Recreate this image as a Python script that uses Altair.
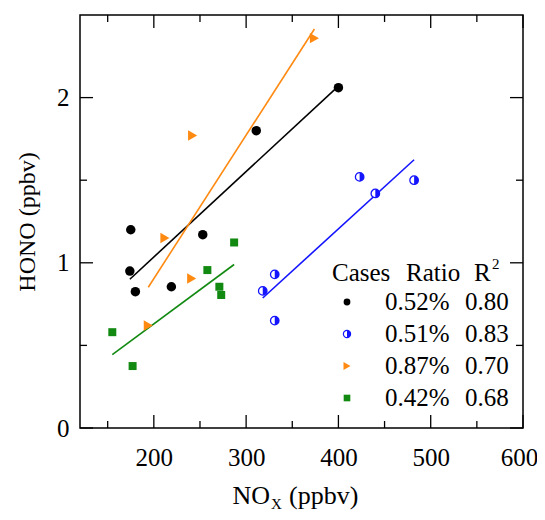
import altair as alt
import pandas as pd

# ---- data ----
black_x = [175, 174, 180, 219, 253, 311, 400]
black_y = [1.20, 0.95, 0.825, 0.855, 1.17, 1.80, 2.06]
blue_x = [318, 331, 331, 423, 440, 482]
blue_y = [0.83, 0.93, 0.65, 1.52, 1.42, 1.50]
orange_x = [194, 212, 241, 242, 374]
orange_y = [0.62, 1.15, 0.905, 1.77, 2.36]
green_x = [155, 177, 258, 271, 273, 287]
green_y = [0.58, 0.375, 0.956, 0.855, 0.805, 1.123]

legend_ratio = ["0.52%", "0.51%", "0.87%", "0.42%"]
legend_r2 = ["0.80", "0.83", "0.70", "0.68"]

x_major = [200, 300, 400, 500, 600]
x_minor = [150, 250, 350, 450, 550]
y_major = [0, 1, 2]
y_minor = [0.5, 1.5]

# ---- styling ----
FONT = "Liberation Serif"
BLACK, BLUE, ORANGE, GREEN = "#000000", "#1414ff", "#ff8a12", "#128a12"
W, H = 443, 413
MAJ, MIN = 13, 7
HALF = "M0,-1A1,1,0,0,1,0,1Z"

xs = alt.Scale(domain=[120, 600], nice=False, zero=False)
ys = alt.Scale(domain=[0, 2.5], nice=False, zero=False)

x_axis = alt.Axis(values=x_major, ticks=False, domain=False, grid=False,
                  labelFont=FONT, labelFontSize=25, labelColor="black",
                  labelPadding=17, labelFlush=False, labelOverlap=False,
                  labelBound=False, title=None,
                  labelOffset={"condition": {"test": "datum.value == 600", "value": -4}, "value": 0})
y_axis = alt.Axis(values=y_major, ticks=False, domain=False, grid=False,
                  labelFont=FONT, labelFontSize=25, labelColor="black",
                  labelPadding=11, labelFlush=False, labelOverlap=False,
                  labelBound=False, title="HONO (ppbv)", titleFont=FONT,
                  titleFontSize=24, titleFontWeight="normal", titleColor="black",
                  titlePadding=17)


def xe(f):
    return alt.X(f"{f}:Q", scale=xs, axis=x_axis)


def ye(f):
    return alt.Y(f"{f}:Q", scale=ys, axis=y_axis)


def frame(xv, yv):
    return pd.DataFrame({"x": xv, "y": yv})


layers = []

series = [
    (black_x, black_y, BLACK),
    (blue_x, blue_y, BLUE),
    (orange_x, orange_y, ORANGE),
    (green_x, green_y, GREEN),
]

# regression lines
for xv, yv, col in series:
    layers.append(
        alt.Chart(frame(xv, yv)).transform_regression("x", "y")
        .mark_line(color=col, strokeWidth=1.6)
        .encode(x=xe("x"), y=ye("y"))
    )

# points
layers.append(alt.Chart(frame(black_x, black_y)).mark_point(
    shape="circle", filled=True, color=BLACK, size=90, opacity=1
).encode(x=xe("x"), y=ye("y")))
layers.append(alt.Chart(frame(blue_x, blue_y)).mark_point(
    shape="circle", filled=True, fill="white", stroke=BLUE, strokeWidth=1.3, size=72, opacity=1
).encode(x=xe("x"), y=ye("y")))
layers.append(alt.Chart(frame(blue_x, blue_y)).mark_point(
    shape=HALF, filled=True, color=BLUE, size=72, opacity=1
).encode(x=xe("x"), y=ye("y")))
layers.append(alt.Chart(frame(orange_x, orange_y)).mark_point(
    shape="triangle-right", filled=True, color=ORANGE, size=110, opacity=1
).encode(x=xe("x"), y=ye("y")))
layers.append(alt.Chart(frame(green_x, green_y)).mark_point(
    shape="square", filled=True, color=GREEN, size=64, opacity=1
).encode(x=xe("x"), y=ye("y")))

# inside ticks on all four sides
for vals, L in ((x_major, MAJ), (x_minor, MIN)):
    d = pd.DataFrame({"v": vals})
    layers.append(alt.Chart(d).mark_rule(color="black", strokeWidth=1.3).encode(
        x=xe("v"), y=alt.value(H), y2=alt.value(H - L)))
    layers.append(alt.Chart(d).mark_rule(color="black", strokeWidth=1.3).encode(
        x=xe("v"), y=alt.value(0), y2=alt.value(L)))
for vals, L in ((y_major, MAJ), (y_minor, MIN)):
    d = pd.DataFrame({"v": vals})
    layers.append(alt.Chart(d).mark_rule(color="black", strokeWidth=1.3).encode(
        y=ye("v"), x=alt.value(0), x2=alt.value(L)))
    layers.append(alt.Chart(d).mark_rule(color="black", strokeWidth=1.3).encode(
        y=ye("v"), x=alt.value(W), x2=alt.value(W - L)))


def label(text, x, y, size=25, align="left", baseline="alphabetic"):
    return alt.Chart(pd.DataFrame({"t": [text]})).mark_text(
        font=FONT, fontSize=size, color="black", align=align, baseline=baseline
    ).encode(text="t:N", x=alt.value(x), y=alt.value(y))


# x-axis title with subscript
layers.append(label("NO", 190, 489, size=26, align="right"))
layers.append(label("X", 191, 494, size=15))
layers.append(label("(ppbv)", 209, 489, size=26))

# legend
LX, TY0, DY = 267, 287, 32
layers.append(label("Cases", 252, 266))
layers.append(label("Ratio", 326, 266))
layers.append(label("R", 394, 266))
layers.append(label("2", 412, 254, size=15))
leg_marks = [
    dict(shape="circle", color=BLACK, size=46),
    dict(shape="circle", color=BLUE, size=52),
    dict(shape="triangle-right", color=ORANGE, size=66),
    dict(shape="square", color=GREEN, size=44),
]
for i, (rt, r2) in enumerate(zip(legend_ratio, legend_r2)):
    yy = TY0 + i * DY
    m = leg_marks[i]
    d = pd.DataFrame({"k": [i]})
    if i == 1:
        layers.append(alt.Chart(d).mark_point(
            shape="circle", filled=True, fill="white", stroke=BLUE, strokeWidth=1.2,
            size=m["size"], opacity=1).encode(x=alt.value(LX), y=alt.value(yy)))
        layers.append(alt.Chart(d).mark_point(
            shape=HALF, filled=True, color=BLUE, size=m["size"], opacity=1
        ).encode(x=alt.value(LX), y=alt.value(yy)))
    else:
        layers.append(alt.Chart(d).mark_point(
            shape=m["shape"], filled=True, color=m["color"], size=m["size"], opacity=1
        ).encode(x=alt.value(LX), y=alt.value(yy)))
    layers.append(label(rt, 305, yy + 8))
    layers.append(label(r2, 385, yy + 8))

chart = alt.layer(*layers).properties(
    width=W, height=H,
    autosize=alt.AutoSizeParams(type="none"),
    padding={"left": 72, "top": 7, "right": 14, "bottom": 84},
    background="white",
).configure_view(stroke="black", strokeWidth=1.5)

chart.save("out.html", embed_options={"renderer": "svg", "actions": False})
